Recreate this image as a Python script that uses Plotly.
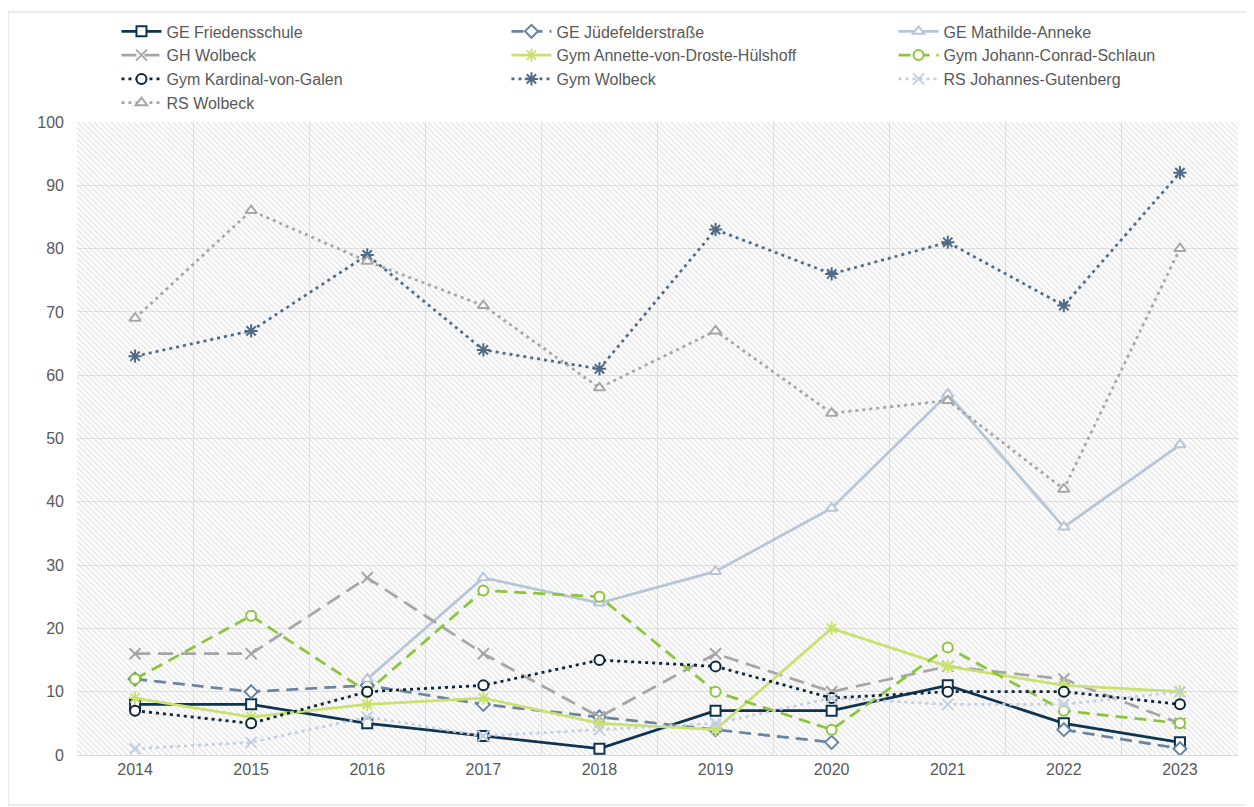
import plotly.graph_objects as go

years = [2014, 2015, 2016, 2017, 2018, 2019, 2020, 2021, 2022, 2023]

ge_friedensschule = [8, 8, 5, 3, 1, 7, 7, 11, 5, 2]
ge_juedefelder = [12, 10, 11, 8, 6, 4, 2, None, 4, 1]
ge_mathilde = [None, None, 12, 28, 24, 29, 39, 57, 36, 49]
gh_wolbeck = [16, 16, 28, 16, 6, 16, 10, 14, 12, 5]
gym_annette = [9, 6, 8, 9, 5, 4, 20, 14, 11, 10]
gym_schlaun = [12, 22, 10, 26, 25, 10, 4, 17, 7, 5]
gym_kardinal = [7, 5, 10, 11, 15, 14, 9, 10, 10, 8]
gym_wolbeck = [63, 67, 79, 64, 61, 83, 76, 81, 71, 92]
rs_gutenberg = [1, 2, 6, 3, 4, 5, 9, 8, 8, 10]
rs_wolbeck = [69, 86, 78, 71, 58, 67, 54, 56, 42, 80]

y_ticks = list(range(0, 101, 10))

# name, values, colour, dash, marker, legend column
series = [
    ("GE Friedensschule", ge_friedensschule, "#0d3451", "solid", "square", "legend"),
    ("GE Jüdefelderstraße", ge_juedefelder, "#6b84a0", "12px,7px", "diamond", "legend2"),
    ("GE Mathilde-Anneke", ge_mathilde, "#b8c5d6", "solid", "triangle-up", "legend3"),
    ("GH Wolbeck", gh_wolbeck, "#a6a6a6", "15px,8px", "x-thin-open", "legend"),
    ("Gym Annette-von-Droste-Hülshoff", gym_annette, "#c9e26f", "solid", "asterisk-open", "legend2"),
    ("Gym Johann-Conrad-Schlaun", gym_schlaun, "#8cc43c", "12px,7px", "circle", "legend3"),
    ("Gym Kardinal-von-Galen", gym_kardinal, "#0c2537", "3px,4px", "circle", "legend"),
    ("Gym Wolbeck", gym_wolbeck, "#4f6b88", "3px,4px", "asterisk-open", "legend2"),
    ("RS Johannes-Gutenberg", rs_gutenberg, "#c3cedf", "3px,4px", "x-thin-open", "legend3"),
    ("RS Wolbeck", rs_wolbeck, "#a6a6a6", "3px,4px", "triangle-up", "legend"),
]

fig = go.Figure()

# hatched plot background
fig.add_trace(go.Bar(
    x=[(years[0] + years[-1]) / 2], y=[y_ticks[-1]], width=[len(years)],
    marker=dict(color="rgba(0,0,0,0)", line_width=0,
                pattern=dict(shape="\\", size=4, solidity=0.35,
                             fgcolor="#c9c9c9", bgcolor="rgba(0,0,0,0)")),
    showlegend=False, hoverinfo="skip",
))

for name, vals, color, dash, symbol, leg in series:
    open_sym = symbol.endswith("-open")
    fig.add_trace(go.Scatter(
        x=years, y=vals, name=name, mode="lines+markers", legend=leg,
        line=dict(color=color, width=2.75, dash=dash),
        marker=dict(symbol=symbol, size=11 if open_sym else 10,
                    color=color if open_sym else "white",
                    line=dict(color=color, width=2)),
    ))

leg_style = dict(orientation="v", y=1.17, xanchor="left", yanchor="top",
                 itemwidth=40, font=dict(size=16, color="#595959"),
                 bgcolor="rgba(0,0,0,0)")

# page body has an 8px margin, so the figure is shrunk by that much
fig.update_layout(
    width=1246, height=799,
    margin=dict(l=69, r=16, t=114, b=52, autoexpand=False),
    paper_bgcolor="white", plot_bgcolor="white",
    font=dict(family="Liberation Sans, Arial, sans-serif", size=16, color="#595959"),
    showlegend=True,
    legend=dict(x=0.034, **leg_style),
    legend2=dict(x=0.3699, **leg_style),
    legend3=dict(x=0.7033, **leg_style),
    xaxis=dict(range=[years[0] - 0.5, years[-1] + 0.5], tickvals=years,
               showgrid=False, zeroline=False, showline=True, linecolor="#d9d9d9",
               ticks="", minor=dict(tick0=years[0] - 0.5, dtick=1, showgrid=True,
                                    gridcolor="#e3e3e3", ticks="")),
    yaxis=dict(range=[0, y_ticks[-1]], tickvals=y_ticks, showgrid=True,
               gridcolor="#e3e3e3", zeroline=False, ticks="", ticklabelstandoff=12),
    bargap=0,
    shapes=[dict(type="rect", xref="paper", yref="paper",
                 x0=-0.0594, x1=1.0086, y0=-0.079, y1=1.1738,
                 line=dict(color="#d9d9d9", width=1), layer="below")],
)

fig.write_html("out.html")
